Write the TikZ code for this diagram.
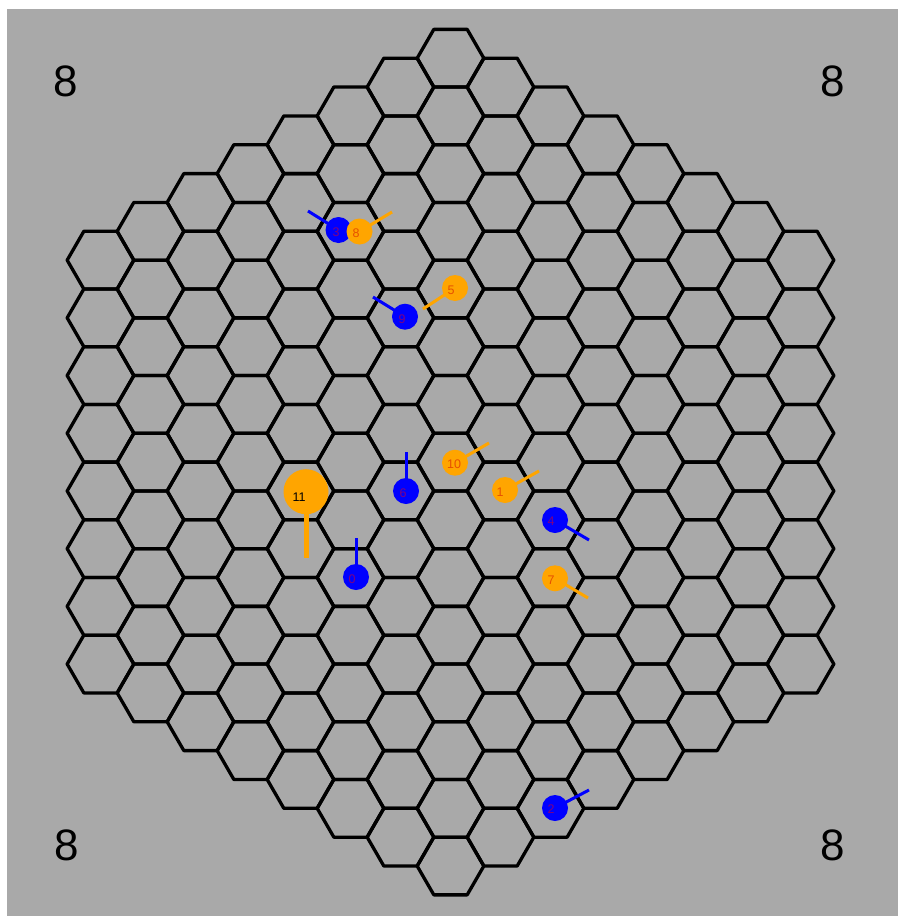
\documentclass[tikz,border=0pt]{standalone}
\usepackage{fontspec}
\setmainfont{Liberation Sans}
\definecolor{boardgray}{RGB}{169,169,169}
\definecolor{pblue}{RGB}{0,0,255}
\definecolor{porange}{RGB}{255,165,0}
\definecolor{lblblue}{RGB}{128,0,128}
\definecolor{lblorange}{RGB}{230,80,0}
\begin{document}
\begin{tikzpicture}[x=1pt,y=-1pt,
  hexline/.style={draw=black,line width=3.3pt,line join=round},
  bluepiece/.style={circle,fill=pblue,inner sep=0pt,minimum size=26pt},
  orangepiece/.style={circle,fill=porange,inner sep=0pt,minimum size=26pt},
  bigorange/.style={circle,fill=porange,inner sep=0pt,minimum size=45pt},
  bluestick/.style={draw=pblue,line width=3pt},
  orangestick/.style={draw=porange,line width=3pt},
  bigstick/.style={draw=porange,line width=5pt},
  bluelbl/.style={inner sep=0pt,text=lblblue,font=\fontsize{12.5}{12.5}\selectfont},
  orangelbl/.style={inner sep=0pt,text=lblorange,font=\fontsize{12.5}{12.5}\selectfont},
  cornerlbl/.style={inner sep=0pt,text=black,font=\fontsize{44}{44}\selectfont}]
\useasboundingbox (0,0) rectangle (898,916);
\fill[white] (0,0) rectangle (898,916);
\fill[boardgray] (7,9) rectangle (898,916);
% hex board
\foreach \c in {-7,...,7}{
  \pgfmathtruncatemacro{\n}{14-abs(\c)}
  \foreach \k in {0,...,\n}{
    \pgfmathsetmacro{\X}{450.5+50*\c}
    \pgfmathsetmacro{\Y}{58.2+28.85*abs(\c)+57.7*\k}
    \draw[hexline] (\X+33.33,\Y) -- (\X+16.67,\Y-28.85) -- (\X-16.67,\Y-28.85)
      -- (\X-33.33,\Y) -- (\X-16.67,\Y+28.85) -- (\X+16.67,\Y+28.85) -- cycle;
  }
}
% corner labels
\node[cornerlbl] (tl) at (66,81) {8};
\node[cornerlbl] (tr) at (833,81) {8};
\node[cornerlbl] (bl) at (67,845) {8};
\node[cornerlbl] (br) at (833,845) {8};
% stick ends
\coordinate (e3) at (308,211);
\coordinate (e9) at (373,297);
\coordinate (e6) at (406,452);
\coordinate (e0) at (356,538);
\coordinate (e4) at (589,540);
\coordinate (e2) at (589,790);
\coordinate (e8) at (392,212);
\coordinate (e5) at (423,309);
\coordinate (e10) at (489,443);
\coordinate (e1) at (539,471);
\coordinate (e7) at (588,598);
\coordinate (e11) at (306,558);
% blue pieces
\node[bluepiece] (p3) at (338.5,230) {};
\node[bluepiece] (p9) at (405,316.7) {};
\node[bluepiece] (p6) at (406,491) {};
\node[bluepiece] (p0) at (356,577) {};
\node[bluepiece] (p4) at (555,520) {};
\node[bluepiece] (p2) at (555,808) {};
\draw[bluestick] (p3.center) -- (e3);
\draw[bluestick] (p9.center) -- (e9);
\draw[bluestick] (p6.center) -- (e6);
\draw[bluestick] (p0.center) -- (e0);
\draw[bluestick] (p4.center) -- (e4);
\draw[bluestick] (p2.center) -- (e2);
\node[bluelbl] (t3) at (336,232) {3};
\node[bluelbl] (t9) at (402,319) {9};
\node[bluelbl] (t6) at (403,493) {6};
\node[bluelbl] (t0) at (352,579) {0};
\node[bluelbl] (t4) at (551,521) {4};
\node[bluelbl] (t2) at (551,809) {2};
% orange pieces
\node[orangepiece] (p8) at (359.5,231.5) {};
\node[orangepiece] (p5) at (455,288) {};
\node[orangepiece] (p10) at (455,462.7) {};
\node[orangepiece] (p1) at (505,490) {};
\node[orangepiece] (p7) at (555,578.3) {};
\node[bigorange] (p11) at (306,491.7) {};
\draw[orangestick] (p8.center) -- (e8);
\draw[orangestick] (p5.center) -- (e5);
\draw[orangestick] (p10.center) -- (e10);
\draw[orangestick] (p1.center) -- (e1);
\draw[orangestick] (p7.center) -- (e7);
\draw[bigstick] (p11.center) -- (e11);
\node[orangelbl] (t8) at (356,233) {8};
\node[orangelbl] (t5) at (451,290) {5};
\node[orangelbl] (t10) at (454,464) {10};
\node[orangelbl] (t1) at (500,492) {1};
\node[orangelbl] (t7) at (551,580) {7};
\node[bluelbl,text=black] (t11) at (299,497.5) {11};
\end{tikzpicture}
\end{document}
